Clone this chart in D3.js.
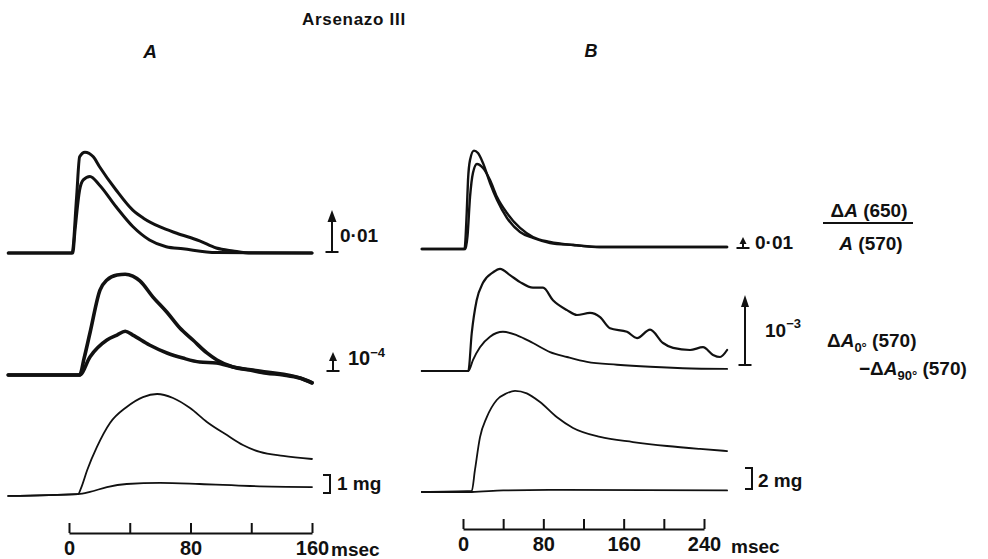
<!DOCTYPE html>
<html>
<head>
<meta charset="utf-8">
<script src="https://cdn.jsdelivr.net/npm/d3@7"></script>
<style>
  body { margin: 0; background: #fff; }
  svg { display: block; font-family: "Liberation Sans", Arial, Helvetica, sans-serif; }
</style>
</head>
<body>
<svg id="fig" width="988" height="559"></svg>
<script>
// ---- Time axes (msec) ----
const ticksA = [0, 40, 80, 120, 160];
const labelsA = [0, 80, 160];
const ticksB = [0, 40, 80, 120, 160, 200, 240];
const labelsB = [0, 80, 160, 240];

// ---- Panel A traces: [time msec, value] ----
// ΔA(650)/A(570)
const ratioA1 = [[-40,0],[0,0],[2,0],[5,0.0133],[7,0.0229],[10.5,0.024],[16,0.0229],[20,0.0206],[31,0.015],[42,0.0102],[49,0.0083],[60,0.0062],[71,0.0047],[86,0.0029],[97,0.0012],[108,0.0005],[120,0],[160,0]];
const ratioA2 = [[-40,0],[0,0],[2.5,0],[4,0.0055],[7,0.015],[9.4,0.0174],[13.8,0.0182],[20,0.0162],[31,0.011],[42,0.0063],[53,0.0031],[64,0.0015],[75,0.001],[97,0.0001],[160,0]];
// ΔA0°(570) − ΔA90°(570), units of 10^-4
const dichroA1 = [[-40,0],[7,0],[10,0.9],[13.8,2.21],[20.4,4.47],[25,5.0],[31.6,5.26],[37,5.3],[42,5.2],[46.7,4.95],[55.3,4.1],[64.5,3.3],[73,2.47],[81.6,1.84],[90.8,1.16],[97.4,0.79],[108,0.42],[119,0.26],[130,0.1],[141,0],[152,-0.16],[160,-0.4]];
const dichroA2 = [[-40,0],[7,0],[13.8,0.95],[25,1.84],[31.6,2.1],[37,2.3],[42,2.1],[53,1.58],[64.5,1.16],[75,0.89],[86,0.68],[97,0.63],[108,0.42],[130,0.16],[152,-0.16],[160,-0.42]];
// Tension, mg
const tensionA1 = [[-40,-0.05],[6,0.05],[8,0.4],[12,1.39],[18.4,2.67],[27,4.0],[38,4.89],[48.7,5.44],[58,5.61],[68.5,5.39],[79.7,4.83],[90.8,4.06],[104,3.33],[114.5,2.78],[125.7,2.39],[141,2.17],[160,2.0]];
const tensionA2 = [[-40,-0.05],[6,0.05],[13.8,0.17],[25,0.44],[38,0.61],[60,0.67],[86,0.61],[119,0.5],[160,0.44]];

// ---- Panel B traces ----
const ratioB1 = [[-41,0],[1.5,0],[3.7,0.0327],[5,0.0627],[7,0.0809],[10.9,0.0894],[14.9,0.0873],[19.9,0.0782],[26.9,0.06],[33.9,0.0445],[43.8,0.0282],[56.8,0.0155],[69.7,0.01],[86.7,0.0055],[110,0.0036],[136,0.0018],[263,0.0018]];
const ratioB2 = [[-41,0],[2.5,0],[4.5,0.012],[7,0.0473],[9.9,0.0691],[13.9,0.0773],[19.9,0.0736],[26.9,0.0627],[33.9,0.0473],[43.8,0.0327],[56.8,0.0191],[69.7,0.0109],[86.7,0.0064],[110,0.0036],[136,0.0018],[263,0.0018]];
const dichroB1 = [[-41,0],[5.3,0],[8.7,5.4],[13.6,10.1],[19.9,12.6],[29.9,14.1],[36.9,14.6],[46.8,13.7],[56.8,12.7],[69.7,11.9],[79.7,11.9],[89.6,10.1],[103.6,8.7],[113.5,8.0],[126.5,8.3],[136.5,7.7],[146.4,6.1],[163.3,5.6],[173.3,4.7],[186.3,5.9],[199.2,4.0],[209.2,3.3],[226.1,3.0],[239,3.4],[249,2.3],[256,2.0],[263,3.0]];
const dichroB2 = [[-41,0],[5.3,0],[10,1.6],[16.9,3.4],[26.9,4.9],[39.8,5.6],[53.8,5.1],[69.7,4.0],[86.7,2.7],[103.6,2.0],[123.5,1.3],[153.4,0.9],[186.3,0.6],[219,0.4],[263,0.3]];
const tensionB1 = [[-41,0],[8.7,0.1],[11.9,2.1],[16.9,5.2],[23.6,7.1],[33.6,8.76],[43.5,9.4],[51.8,9.64],[63.5,9.4],[76.7,8.57],[93.3,7.14],[109.6,6.1],[136.5,5.24],[169.3,4.76],[203.2,4.38],[236,4.1],[263,3.9]];
const tensionB2 = [[-41,0],[8.7,0],[40,0.15],[100,0.2],[263,0.15]];

// ---- Calibration bar values ----
const calRatio = 0.01;      // ΔA/A
const calDichroA = 1;       // 10^-4
const calDichroB = 10;      // 10^-3 in units of 10^-4
const calTensionA = 1;      // mg
const calTensionB = 2;      // mg

const ink = "#111";
const svg = d3.select("#fig");

// ---- Scales ----
const xA = d3.scaleLinear().domain([0, 160]).range([69, 312]);
const xB = d3.scaleLinear().domain([0, 240]).range([463, 704]);

const yA_ratio   = d3.scaleLinear().domain([0, 0.01]).range([253, 211]);
const yA_dichro  = d3.scaleLinear().domain([0, 1]).range([375, 356]);
const yA_tension = d3.scaleLinear().domain([0, 1]).range([495, 477]);
const yB_ratio   = d3.scaleLinear().domain([0, 0.01]).range([249, 238]);
const yB_dichro  = d3.scaleLinear().domain([0, 10]).range([371, 301]);
const yB_tension = d3.scaleLinear().domain([0, 2]).range([492, 471]);

// ---- Traces ----
const traces = [
  { d: ratioA1,   x: xA, y: yA_ratio,   w: 3.0 },
  { d: ratioA2,   x: xA, y: yA_ratio,   w: 3.0 },
  { d: dichroA1,  x: xA, y: yA_dichro,  w: 3.6 },
  { d: dichroA2,  x: xA, y: yA_dichro,  w: 3.6 },
  { d: tensionA1, x: xA, y: yA_tension, w: 1.8 },
  { d: tensionA2, x: xA, y: yA_tension, w: 1.8 },
  { d: ratioB1,   x: xB, y: yB_ratio,   w: 2.4 },
  { d: ratioB2,   x: xB, y: yB_ratio,   w: 2.4 },
  { d: dichroB1,  x: xB, y: yB_dichro,  w: 2.2 },
  { d: dichroB2,  x: xB, y: yB_dichro,  w: 1.9 },
  { d: tensionB1, x: xB, y: yB_tension, w: 1.8 },
  { d: tensionB2, x: xB, y: yB_tension, w: 1.8 }
];

const gTraces = svg.append("g").attr("fill", "none").attr("stroke", ink)
  .attr("stroke-linejoin", "round").attr("stroke-linecap", "round");
traces.forEach(t => {
  const line = d3.line().curve(d3.curveMonotoneX)
    .x(p => t.x(p[0])).y(p => t.y(p[1]));
  gTraces.append("path").attr("d", line(t.d)).attr("stroke-width", t.w);
});

// ---- Calibration arrows and brackets ----
function arrowBar(x, scale, value, lift, headW, headH) {
  const foot = scale(0) - lift, tip = scale(value) - lift;
  const g = svg.append("g").attr("stroke", ink).attr("fill", ink);
  g.append("line").attr("x1", x).attr("x2", x).attr("y1", foot).attr("y2", tip + headH - 1).attr("stroke-width", 2);
  g.append("line").attr("x1", x - 6.5).attr("x2", x + 6.5).attr("y1", foot).attr("y2", foot).attr("stroke-width", 2);
  g.append("path").attr("stroke", "none")
    .attr("d", `M${x},${tip} L${x + headW / 2},${tip + headH} L${x - headW / 2},${tip + headH} Z`);
}
function bracket(x, scale, value, lift) {
  const bot = scale(0) - lift, top = scale(value) - lift;
  svg.append("path").attr("fill", "none").attr("stroke", ink).attr("stroke-width", 2)
    .attr("d", `M${x - 7},${top} H${x} V${bot} H${x - 7}`);
}

arrowBar(332, yA_ratio, calRatio, 1, 9, 12);
arrowBar(333, yA_dichro, calDichroA, 4, 8, 9);
bracket(330, yA_tension, calTensionA, 2);
arrowBar(743, yB_ratio, calRatio, 1, 7, 7);
arrowBar(745, yB_dichro, calDichroB, 6, 8, 12);
bracket(752, yB_tension, calTensionB, 3);

// ---- Text helpers ----
function text(x, y, str, size, opts = {}) {
  return svg.append("text").attr("x", x).attr("y", y)
    .attr("font-size", size).attr("font-weight", opts.weight || "bold")
    .attr("font-style", opts.style || "normal")
    .attr("letter-spacing", opts.ls || 0)
    .attr("text-anchor", opts.anchor || "start")
    .attr("fill", ink).text(str);
}

// Calibration labels
text(340, 242, "0·01", 19);
const pA = text(348, 365, "10", 20);
pA.append("tspan").attr("dy", -8).attr("font-size", 13).text("−4");
text(337, 490, "1 mg", 19);
text(755, 249, "0·01", 19);
const pB = text(765, 337, "10", 19);
pB.append("tspan").attr("dy", -9).attr("font-size", 13).text("−3");
text(758, 487, "2 mg", 19);

// Row labels on the right
const num = text(869, 217, "", 19, { anchor: "middle" });
num.append("tspan").text("Δ");
num.append("tspan").attr("font-style", "italic").text("A");
num.append("tspan").text(" (650)");
svg.append("line").attr("x1", 823).attr("x2", 913).attr("y1", 223).attr("y2", 223)
  .attr("stroke", ink).attr("stroke-width", 2);
const den = text(871, 250, "", 19, { anchor: "middle" });
den.append("tspan").attr("font-style", "italic").text("A");
den.append("tspan").text(" (570)");

const d0 = text(827, 347, "", 19);
d0.append("tspan").text("Δ");
d0.append("tspan").attr("font-style", "italic").text("A");
d0.append("tspan").attr("dy", 5).attr("font-size", 13).text("0°");
d0.append("tspan").attr("dy", -5).text(" (570)");
const d90 = text(859, 375, "", 19);
d90.append("tspan").text("−Δ");
d90.append("tspan").attr("font-style", "italic").text("A");
d90.append("tspan").attr("dy", 5).attr("font-size", 13).text("90°");
d90.append("tspan").attr("dy", -5).text(" (570)");

// Titles
text(302, 25, "Arsenazo III", 17, { ls: 0.7 });
text(150, 58, "A", 19, { style: "italic", anchor: "middle" });
text(591, 57, "B", 18, { style: "italic", anchor: "middle" });

// ---- Time axes ----
function timeAxis(x, ticks, labels, axisY, unitX, unitY) {
  const g = svg.append("g").attr("transform", `translate(0,${axisY})`)
    .call(d3.axisBottom(x).tickValues(ticks).tickSizeInner(-10).tickSizeOuter(0)
      .tickPadding(8).tickFormat(d => labels.includes(d) ? d : ""));
  g.select(".domain").attr("stroke", ink).attr("stroke-width", 2);
  g.selectAll(".tick line").attr("stroke", ink).attr("stroke-width", 2);
  g.selectAll(".tick text").attr("fill", ink).attr("font-size", 20)
    .attr("font-weight", "bold").attr("font-family", "Liberation Sans, Arial, sans-serif");
  text(unitX, unitY, "msec", 19);
}
timeAxis(xA, ticksA, labelsA, 533, 331, 556);
timeAxis(xB, ticksB, labelsB, 529, 731, 553);
</script>
</body>
</html>
